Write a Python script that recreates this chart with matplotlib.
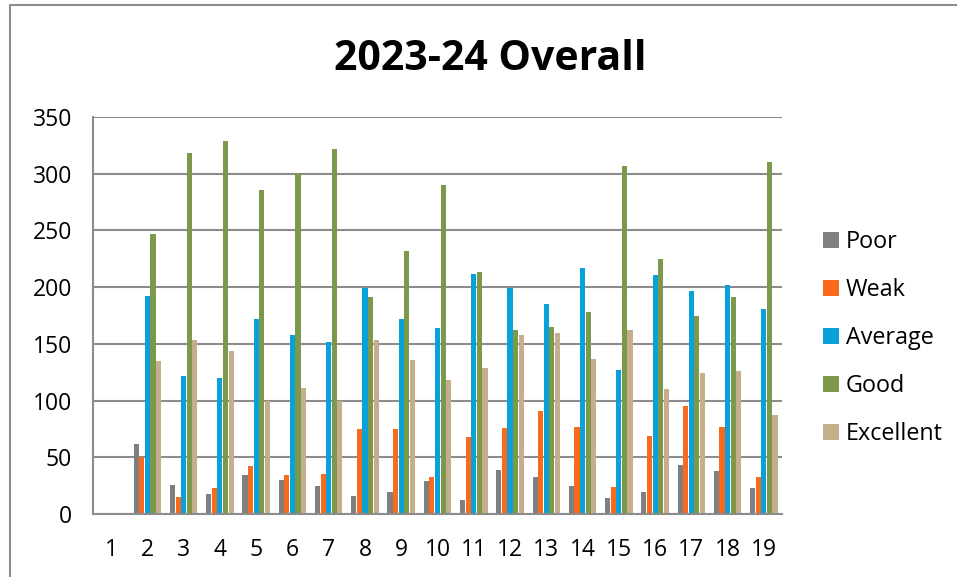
import numpy as np
import matplotlib
matplotlib.use('Agg')
import matplotlib.pyplot as plt
from matplotlib.patches import Rectangle, Patch

plt.rcParams['font.family'] = ['Open Sans', 'DejaVu Sans']

categories = [str(i) for i in range(1, 20)]
series = ['Poor', 'Weak', 'Average', 'Good', 'Excellent']
poor = [0, 62, 26, 18, 34, 30, 25, 16, 19, 29, 12, 39, 33, 25, 14, 19, 43, 38, 23]
weak = [0, 50, 15, 23, 42, 34, 35, 75, 75, 33, 68, 76, 91, 77, 24, 69, 95, 77, 33]
average = [0, 192, 122, 120, 172, 158, 152, 199, 172, 164, 212, 199, 185, 217, 127, 211, 197, 202, 181]
good = [0, 247, 318, 329, 286, 301, 322, 191, 232, 290, 213, 162, 165, 178, 307, 225, 175, 191, 310]
excellent = [0, 135, 153, 144, 100, 111, 100, 153, 136, 118, 129, 158, 160, 137, 162, 110, 124, 126, 87]
colors = ['#7f7f7f', '#f96a1b', '#08a1d9', '#7c984a', '#c4ae8b']

W, H = 957, 577
fig = plt.figure(figsize=(W / 100, H / 100), dpi=100)

# outer chart frame (cut off at right and bottom)
fig.patches.append(Rectangle((10 / W, -0.1), 1.2, 1 - 5 / H + 0.1, transform=fig.transFigure,
                             fill=False, edgecolor='#8c8c8c', linewidth=1.5))

ax = fig.add_axes([93 / W, 1 - 514 / H, (782 - 93) / W, (514 - 117) / H])

x = np.arange(len(categories))
bw = 0.154
for i, (name, vals) in enumerate(zip(series, [poor, weak, average, good, excellent])):
    ax.bar(x + (i - 2) * bw, vals, bw * 0.92, color=colors[i], label=name,
           linewidth=0, zorder=3)

ax.set_xlim(-0.5, len(categories) - 0.5)
ax.set_ylim(0, 350)
ax.set_yticks(range(0, 351, 50))
ax.set_xticks(x)
ax.set_xticklabels(categories)
ax.tick_params(axis='both', length=0, labelsize=16.5, colors='black')
ax.tick_params(axis='x', pad=17)
ax.tick_params(axis='y', pad=15)
ax.grid(axis='y', color='#8c8c8c', linewidth=1.5, zorder=0)
for side in ['top', 'right']:
    ax.spines[side].set_visible(False)
for side in ['left', 'bottom']:
    ax.spines[side].set_color('#8c8c8c')
    ax.spines[side].set_linewidth(1.5)
    ax.spines[side].set_zorder(4)

fig.text(490 / W, 1 - 59 / H, '2023-24 Overall', ha='center', va='center',
         fontsize=29.5, fontweight='bold')

handles = [Patch(facecolor=c, edgecolor='none') for c in colors]
fig.legend(handles, series, loc='upper left', bbox_to_anchor=(814 / W, 1 - 221 / H),
           frameon=False, fontsize=16.8, handlelength=0.65, handleheight=0.65,
           handletextpad=0.3, labelspacing=1.03, borderaxespad=0)

fig.savefig('out.png', dpi=100)
